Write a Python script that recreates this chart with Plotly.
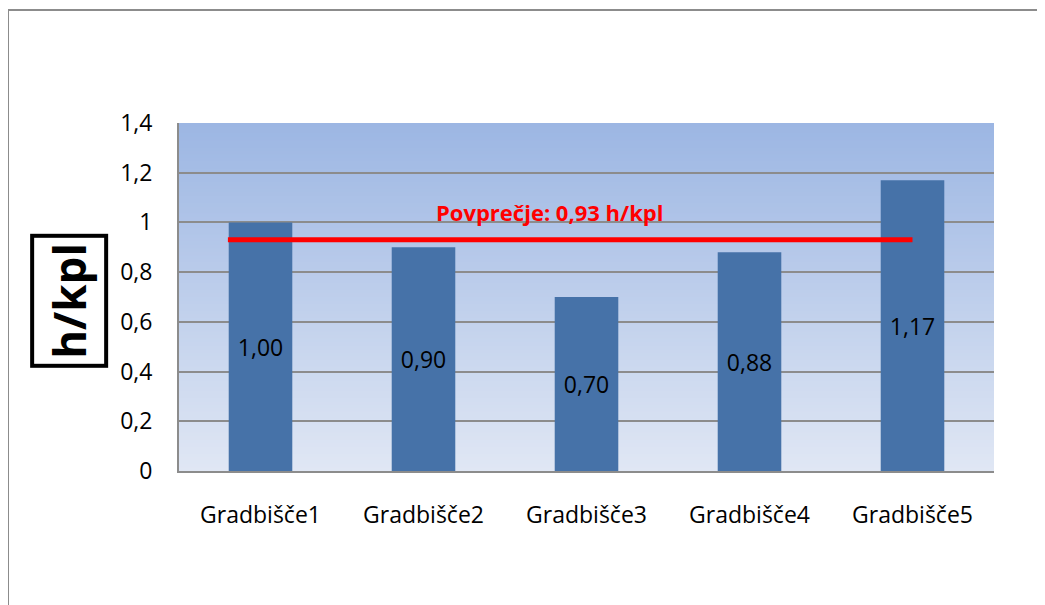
import plotly.graph_objects as go

categories = ["Gradbišče1", "Gradbišče2", "Gradbišče3", "Gradbišče4", "Gradbišče5"]
values = [1.00, 0.90, 0.70, 0.88, 1.17]
average = 0.93
avg_label = "Povprečje: 0,93 h/kpl"
y_title = "h/kpl"

x_pos = list(range(len(categories)))

fig = go.Figure()

fig.add_trace(go.Bar(
    x=x_pos, y=values, width=0.39,
    marker=dict(color="#4672a8", line=dict(width=0)),
    texttemplate="%{y:.2f}", textposition="inside", insidetextanchor="middle",
    textangle=0,
    textfont=dict(color="black", size=23, family="Open Sans"),
    hoverinfo="skip", showlegend=False,
))

fig.add_trace(go.Scatter(
    x=[-0.2, 4.0], y=[average, average], mode="lines",
    line=dict(color="#ff0000", width=5), showlegend=False, hoverinfo="skip",
))

# gradient background bands (overlapping to avoid seams)
shapes = []
n = 100
top = (156, 182, 227)
bot = (224, 231, 244)
for i in range(n):
    t = (i + 0.5) / n
    c = tuple(round(bot[k] + (top[k] - bot[k]) * t) for k in range(3))
    shapes.append(dict(type="rect", xref="paper", yref="y",
                       x0=0, x1=1, y0=1.4 * i / n, y1=1.4,
                       fillcolor="rgb(%d,%d,%d)" % c, line=dict(width=0), layer="below"))
# outer frame
shapes.append(dict(type="rect", xref="paper", yref="paper",
                   x0=-0.2098, x1=1.08, y0=-0.42, y1=1.3247,
                   line=dict(color="#8c8c8c", width=2), fillcolor="rgba(0,0,0,0)", layer="above"))

fig.update_layout(
    width=1045, height=605,
    margin=dict(l=171, r=59, t=115, b=142),
    paper_bgcolor="white", plot_bgcolor="white",
    separators=",.",
    font=dict(family="Open Sans", size=23, color="black"),
    shapes=shapes,
    xaxis=dict(
        range=[-0.5, 4.5], tickvals=x_pos, ticktext=categories,
        showgrid=False, zeroline=False, showline=True, linecolor="#8c8c8c", linewidth=2,
        ticks="outside", ticklen=22, tickcolor="rgba(0,0,0,0)",
        tickfont=dict(size=23),
    ),
    yaxis=dict(
        range=[0, 1.4], dtick=0.2, showgrid=True, gridcolor="#8c8c8c", gridwidth=1.5,
        zeroline=False, showline=True, linecolor="#8c8c8c", linewidth=2, mirror=False,
        ticks="outside", ticklen=20, tickcolor="rgba(0,0,0,0)",
        tickfont=dict(size=23),
    ),
    annotations=[
        dict(text="<b>%s</b>" % avg_label, x=1.77, y=1.04, xref="x", yref="y",
             showarrow=False, font=dict(color="#ff0000", size=22, family="Open Sans")),
        dict(text="<b>%s</b>" % y_title, x=-0.135, y=0.489, xref="paper", yref="paper",
             xanchor="center", yanchor="middle",
             textangle=-90, showarrow=False, font=dict(size=44, color="black", family="Open Sans"),
             bordercolor="black", borderwidth=4, borderpad=5, bgcolor="white"),
    ],
)

fig.write_html("out.html")
